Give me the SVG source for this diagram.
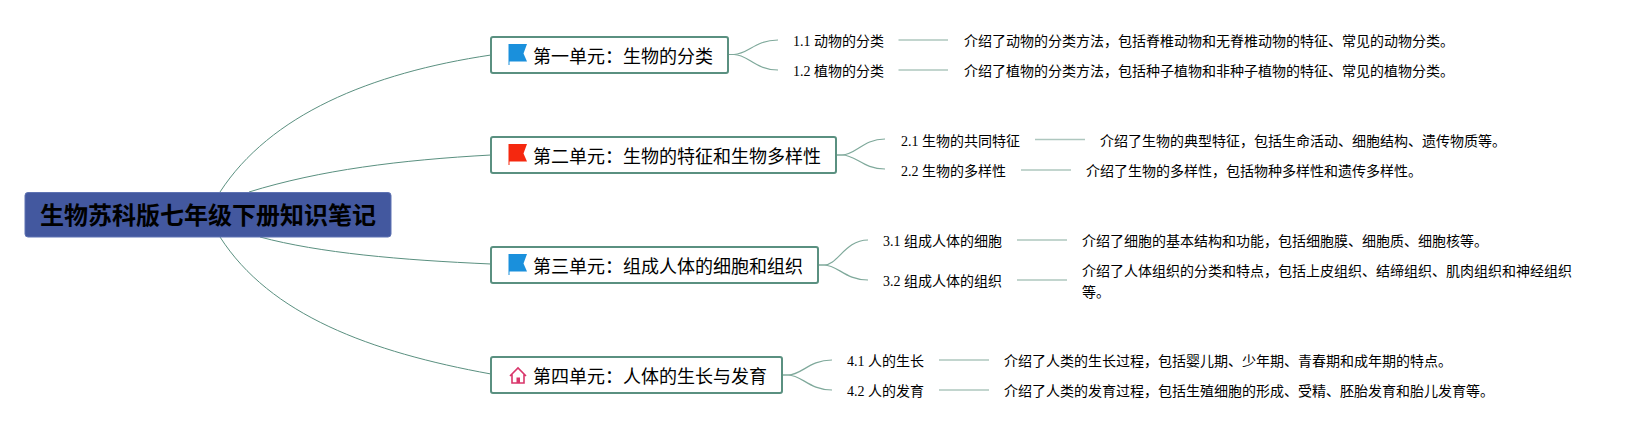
<svg xmlns="http://www.w3.org/2000/svg" width="1642" height="430" viewBox="0 0 1642 430">
<style>
text{font-family:"Liberation Serif","Noto Sans CJK SC",sans-serif;fill:#000}
.root{fill:#43589f;stroke:#5f73b3;stroke-width:1}
.rt{font-size:24px;font-weight:700}
.topic{fill:#fff;stroke:#5a9080;stroke-width:2}
.tt{font-size:18px}
.ct{font-size:14px}
.main{fill:none;stroke:#5a9080;stroke-width:1}
.branch{fill:none;stroke:#7fa99b;stroke-width:1.2}
.leaf{fill:none;stroke:#aec7bf;stroke-width:1.5}
</style>
<defs>
<g id="flag"><path d="M0.5 0H19L15.5 9.5L19 17.5H1.5V21H0.5Z"/></g>
</defs>
<rect width="1642" height="430" fill="#fff"/>
<g id="connectors">
<path class="main" d="M220 192C270 115 370 73 491 55"/>
<path class="main" d="M249 192C320 170 400 160 491 155"/>
<path class="main" d="M260 237C320 253 400 260 491 264"/>
<path class="main" d="M220 237C270 315 370 352 491 374"/>
<path class="branch" d="M728 54.5H734C748 54.5 755 40 778 40"/>
<path class="branch" d="M728 54.5H734C748 54.5 755 70 778 70"/>
<path class="branch" d="M836 155H842C856 155 863 139 885 139"/>
<path class="branch" d="M836 155H842C856 155 863 169 885 169"/>
<path class="branch" d="M818 265H824C838 265 845 240 868 240"/>
<path class="branch" d="M818 265H824C838 265 845 280 868 280"/>
<path class="branch" d="M782 375H788C802 375 809 360 832 360"/>
<path class="branch" d="M782 375H788C802 375 809 390 832 390"/>
<path class="leaf" d="M898.5 40H948M898.5 70H948M1035 139.5H1085M1021 170H1071M1017 240H1067M1017 280H1067M939 360H989M939 390H989"/>
</g>
<g id="root"><rect class="root" x="25" y="192.5" width="366" height="44.5" rx="3"/><text class="rt" x="40" y="223.5">生物苏科版七年级下册知识笔记</text></g>
<g id="t1"><rect class="topic" x="491" y="37" width="237" height="36" rx="2"/><use href="#flag" x="508" y="44" fill="#1a90dc"/><text class="tt" x="533" y="62.5">第一单元：生物的分类</text></g>
<g id="t2"><rect class="topic" x="491" y="137" width="345" height="36" rx="2"/><use href="#flag" x="508" y="144" fill="#f5280f"/><text class="tt" x="533" y="162.5">第二单元：生物的特征和生物多样性</text></g>
<g id="t3"><rect class="topic" x="491" y="247" width="327" height="36" rx="2"/><use href="#flag" x="508" y="254" fill="#1a90dc"/><text class="tt" x="533" y="272.5">第三单元：组成人体的细胞和组织</text></g>
<g id="t4"><rect class="topic" x="491" y="357" width="291" height="36" rx="2"/><path d="M510 376L518 368L526 376M512 374.5V383H524V374.5" fill="none" stroke="#d9366b" stroke-width="1.6"/><rect x="516.5" y="377.5" width="3.5" height="5.5" fill="#d9366b"/><text class="tt" x="533" y="382.5">第四单元：人体的生长与发育</text></g>
<g id="n11"><text class="ct" x="793" y="46">1.1 动物的分类</text></g>
<g id="d11"><text class="ct" x="964" y="46">介绍了动物的分类方法，包括脊椎动物和无脊椎动物的特征、常见的动物分类。</text></g>
<g id="n12"><text class="ct" x="793" y="76">1.2 植物的分类</text></g>
<g id="d12"><text class="ct" x="964" y="76">介绍了植物的分类方法，包括种子植物和非种子植物的特征、常见的植物分类。</text></g>
<g id="n21"><text class="ct" x="901" y="146">2.1 生物的共同特征</text></g>
<g id="d21"><text class="ct" x="1100" y="146">介绍了生物的典型特征，包括生命活动、细胞结构、遗传物质等。</text></g>
<g id="n22"><text class="ct" x="901" y="176">2.2 生物的多样性</text></g>
<g id="d22"><text class="ct" x="1086" y="176">介绍了生物的多样性，包括物种多样性和遗传多样性。</text></g>
<g id="n31"><text class="ct" x="883" y="246">3.1 组成人体的细胞</text></g>
<g id="d31"><text class="ct" x="1082" y="246">介绍了细胞的基本结构和功能，包括细胞膜、细胞质、细胞核等。</text></g>
<g id="n32"><text class="ct" x="883" y="286">3.2 组成人体的组织</text></g>
<g id="d32"><text class="ct" x="1082" y="276">介绍了人体组织的分类和特点，包括上皮组织、结缔组织、肌肉组织和神经组织</text><text class="ct" x="1082" y="297">等。</text></g>
<g id="n41"><text class="ct" x="847" y="366">4.1 人的生长</text></g>
<g id="d41"><text class="ct" x="1004" y="366">介绍了人类的生长过程，包括婴儿期、少年期、青春期和成年期的特点。</text></g>
<g id="n42"><text class="ct" x="847" y="396">4.2 人的发育</text></g>
<g id="d42"><text class="ct" x="1004" y="396">介绍了人类的发育过程，包括生殖细胞的形成、受精、胚胎发育和胎儿发育等。</text></g>
</svg>
